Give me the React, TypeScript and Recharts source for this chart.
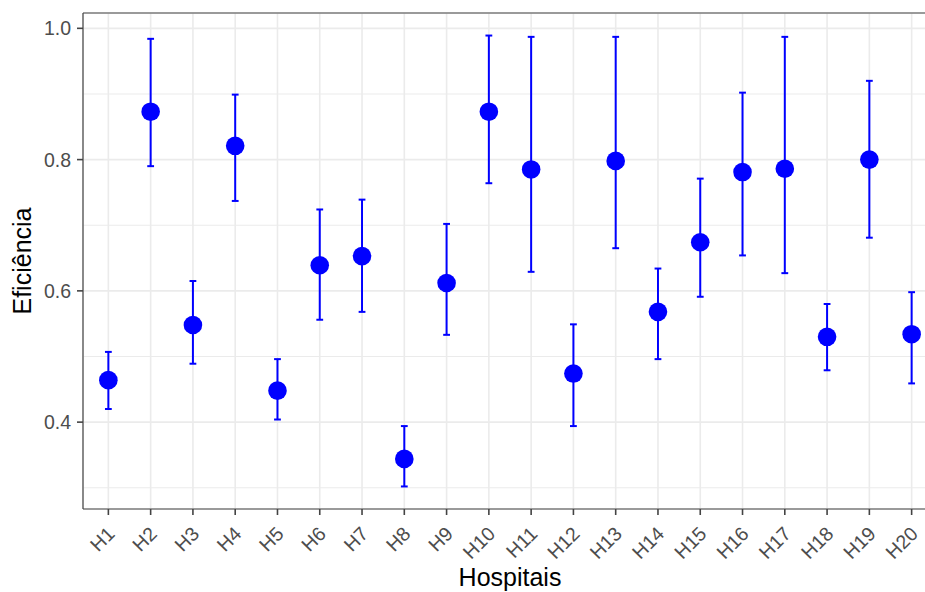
import React from "react";
import {
  ScatterChart,
  Scatter,
  XAxis,
  YAxis,
  CartesianGrid,
  ErrorBar,
  ReferenceLine,
  Label,
} from "recharts";

const hospitals = [
  "H1", "H2", "H3", "H4", "H5", "H6", "H7", "H8", "H9", "H10",
  "H11", "H12", "H13", "H14", "H15", "H16", "H17", "H18", "H19", "H20",
];
const efficiency = [
  0.464, 0.873, 0.548, 0.821, 0.448, 0.639, 0.653, 0.344, 0.612, 0.873,
  0.785, 0.474, 0.798, 0.568, 0.674, 0.781, 0.786, 0.53, 0.8, 0.534,
];
const lowerBound = [
  0.42, 0.79, 0.489, 0.737, 0.404, 0.556, 0.568, 0.302, 0.533, 0.764,
  0.629, 0.394, 0.665, 0.496, 0.591, 0.654, 0.627, 0.479, 0.681, 0.459,
];
const upperBound = [
  0.507, 0.984, 0.615, 0.899, 0.496, 0.724, 0.739, 0.394, 0.702, 0.989,
  0.987, 0.549, 0.987, 0.634, 0.771, 0.902, 0.987, 0.58, 0.92, 0.598,
];
const yTicks = [0.4, 0.6, 0.8, 1.0];
const yMinorTicks = [0.3, 0.5, 0.7, 0.9];

const FONT = "'Liberation Sans', Arial, sans-serif";
const BLUE = "#0000FF";
const GRID = "#EBEBEB";
const AXIS = "#444444";

const data = hospitals.map((name, i) => ({
  idx: i + 1,
  name,
  value: efficiency[i],
  lower: lowerBound[i],
  upper: upperBound[i],
}));

// ggplot-style 5% expansion of the data range
const lo = Math.min(...lowerBound);
const hi = Math.max(...upperBound);
const pad = (hi - lo) * 0.05;
const yDomain: [number, number] = [lo - pad, hi + pad];
const xTicks = hospitals.map((_, i) => i + 1);

function HospitalTick(props: any) {
  const { x, y, payload } = props;
  const ax = x + 7.5;
  const ay = y + 18;
  return (
    <text
      x={ax}
      y={ay}
      transform={`rotate(-45, ${ax}, ${ay})`}
      textAnchor="end"
      fontSize={19.5}
      fontFamily={FONT}
      fill="#4D4D4D"
    >
      {hospitals[payload.value - 1]}
    </text>
  );
}

export default function App() {
  return (
    <div
      style={{
        position: "fixed",
        left: 0,
        top: 0,
        width: 925,
        height: 592,
        overflow: "hidden",
        background: "#fff",
      }}
    >
      <ScatterChart
        width={940}
        height={592}
        margin={{ top: 13, right: 3, bottom: 0, left: 0 }}
      >
        <CartesianGrid stroke={GRID} strokeWidth={1.6} />
        {yMinorTicks.map((v) => (
          <ReferenceLine key={v} y={v} stroke={GRID} strokeWidth={1.1} />
        ))}
        <ReferenceLine y={yDomain[1]} stroke={AXIS} strokeWidth={1.2} />
        <XAxis
          type="number"
          dataKey="idx"
          domain={[0.4, 20.6]}
          ticks={xTicks}
          interval={0}
          height={83}
          tickSize={6}
          tick={<HospitalTick />}
          tickLine={{ stroke: AXIS, strokeWidth: 1.6 }}
          axisLine={{ stroke: AXIS, strokeWidth: 1.2 }}
          allowDataOverflow
        >
          <Label
            content={({ viewBox }: any) => (
              <text
                x={viewBox.x + viewBox.width / 2}
                y={586}
                textAnchor="middle"
                fontSize={25}
                fontFamily={FONT}
                fill="#000"
              >
                Hospitais
              </text>
            )}
          />
        </XAxis>
        <YAxis
          type="number"
          dataKey="value"
          domain={yDomain}
          ticks={yTicks}
          width={83}
          tickSize={6}
          tickMargin={6}
          tickFormatter={(v: number) => v.toFixed(1)}
          tick={{ fontSize: 19.5, fontFamily: FONT, fill: "#4D4D4D" }}
          tickLine={{ stroke: AXIS, strokeWidth: 1.6 }}
          axisLine={{ stroke: AXIS, strokeWidth: 1.2 }}
          allowDataOverflow
        >
          <Label
            content={({ viewBox }: any) => {
              const cx = 31;
              const cy = viewBox.y + viewBox.height / 2;
              return (
                <text
                  x={cx}
                  y={cy}
                  transform={`rotate(-90, ${cx}, ${cy})`}
                  textAnchor="middle"
                  fontSize={25}
                  fontFamily={FONT}
                  fill="#000"
                >
                  Eficiência
                </text>
              );
            }}
          />
        </YAxis>
        <Scatter
          data={data}
          isAnimationActive={false}
          shape={(p: any) => <circle cx={p.cx} cy={p.cy} r={9.3} fill={BLUE} />}
        >
          <ErrorBar
            dataKey={(d: any) => [d.value - d.lower, d.upper - d.value]}
            direction="y"
            width={3.4}
            stroke={BLUE}
            strokeWidth={2}
            isAnimationActive={false}
          />
        </Scatter>
      </ScatterChart>
    </div>
  );
}
